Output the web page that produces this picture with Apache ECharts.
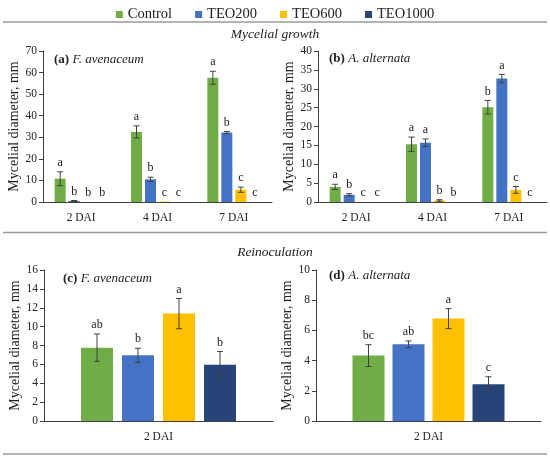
<!DOCTYPE html>
<html>
<head>
<meta charset="utf-8">
<script src="https://cdn.jsdelivr.net/npm/echarts@6/dist/echarts.min.js"></script>
<style>
  html, body { margin: 0; padding: 0; background: #fff; }
  #main { width: 550px; height: 458px; }
</style>
</head>
<body>
<div id="main"></div>
<script>
// treatments, days
var groups = ['Control', 'TEO200', 'TEO600', 'TEO1000'];
var days = ['2 DAI', '4 DAI', '7 DAI'];
var reinocDays = ['2 DAI'];
var colors = ['#70ad47', '#4472c4', '#ffc000', '#264478'];

// (a) F. avenaceum, mycelial growth - rows = treatment, cols = day
var aMean = [[10.8, 32.5, 57.6], [0.5, 10.5, 32.2], [0, 0.2, 5.7], [0, 0, 0]];
var aErr = [[3.2, 2.8, 3.0], [0.2, 1.0, 0.5], [0, 0, 1.2], [0, 0, 0]];
var aLet = [['a', 'a', 'a'], ['b', 'b', 'b'], ['b', 'c', 'c'], ['b', 'c', 'c']];

// (b) A. alternata, mycelial growth
var bMean = [[4.0, 15.3, 25.1], [1.9, 15.7, 32.7], [0, 0.4, 3.2], [0, 0, 0]];
var bErr = [[0.7, 1.9, 1.8], [0.3, 1.0, 1.1], [0, 0.2, 0.9], [0, 0, 0]];
var bLet = [['a', 'a', 'b'], ['b', 'a', 'a'], ['c', 'b', 'c'], ['c', 'b', 'c']];

// (c) F. avenaceum, reinoculation
var cMean = [[7.77], [6.96], [11.38], [5.97]];
var cErr = [[1.45], [0.75], [1.6], [1.4]];
var cLet = [['ab'], ['b'], ['a'], ['b']];

// (d) A. alternata, reinoculation
var dMean = [[4.33], [5.08], [6.78], [2.43]];
var dErr = [[0.72], [0.22], [0.66], [0.5]];
var dLet = [['bc'], ['ab'], ['a'], ['c']];

var myChart = echarts.init(document.getElementById('main'));
var serif = '"Liberation Serif", "DejaVu Serif", serif';
var axisCol = '#404040';

function errRender(means, errs, lets, offset) {
    return function (params, api) {
        var i = params.dataIndex;
        var m = means[i], e = errs[i];
        var base = api.coord([api.value(0), m]);
        var x = base[0] + offset;
        var top = api.coord([api.value(0), m + e])[1];
        var bot = api.coord([api.value(0), Math.max(m - e, 0)])[1];
        var kids = [];
        if (e > 0) {
            var st = {stroke: axisCol, lineWidth: 1};
            kids.push({type: 'line', shape: {x1: x, y1: top, x2: x, y2: bot}, style: st});
            kids.push({type: 'line', shape: {x1: x - 3, y1: top, x2: x + 3, y2: top}, style: st});
            kids.push({type: 'line', shape: {x1: x - 3, y1: bot, x2: x + 3, y2: bot}, style: st});
        }
        kids.push({
            type: 'text',
            style: {
                text: lets[i], x: x, y: top - 3, align: 'center', verticalAlign: 'bottom',
                fontSize: 12, fontFamily: serif, fill: '#222'
            }
        });
        return {type: 'group', children: kids};
    };
}

var grids = [
    {left: 43, top: 51, width: 229, height: 151},
    {left: 318, top: 51, width: 229, height: 151},
    {left: 44, top: 270, width: 229, height: 151},
    {left: 316, top: 270, width: 225, height: 151}
];
var panels = [
    {cats: days, mean: aMean, err: aErr, lets: aLet, max: 70, step: 10, bw: 11, gap: 3},
    {cats: days, mean: bMean, err: bErr, lets: bLet, max: 40, step: 5, bw: 11, gap: 3},
    {cats: reinocDays, mean: cMean, err: cErr, lets: cLet, max: 16, step: 2, bw: 32, gap: 9},
    {cats: reinocDays, mean: dMean, err: dErr, lets: dLet, max: 10, step: 2, bw: 32, gap: 8}
];

var xAxes = [], yAxes = [], series = [];
panels.forEach(function (p, gi) {
    xAxes.push({
        type: 'category', gridIndex: gi, data: p.cats,
        axisLine: {lineStyle: {color: axisCol, width: 1}},
        axisTick: {length: 5, lineStyle: {color: axisCol}},
        axisLabel: {color: '#222', fontFamily: serif, fontSize: 11.5, margin: 10}
    });
    yAxes.push({
        type: 'value', gridIndex: gi, min: 0, max: p.max, interval: p.step,
        name: 'Mycelial diameter, mm', nameLocation: 'middle', nameGap: 21,
        nameTextStyle: {fontFamily: serif, fontSize: 14, color: '#222'},
        axisLine: {show: true, lineStyle: {color: axisCol, width: 1}},
        axisTick: {show: true, length: 4, lineStyle: {color: axisCol}},
        splitLine: {show: false},
        axisLabel: {color: '#222', fontFamily: serif, fontSize: 11.5, margin: 6}
    });
    groups.forEach(function (g, k) {
        series.push({
            name: g, type: 'bar', xAxisIndex: gi, yAxisIndex: gi,
            data: p.mean[k], barWidth: p.bw, barGap: (p.gap / p.bw * 100) + '%',
            itemStyle: {color: colors[k]}, animation: false
        });
    });
    groups.forEach(function (g, k) {
        var off = (k - 1.5) * (p.bw + p.gap);
        series.push({
            name: g + ' err', type: 'custom', xAxisIndex: gi, yAxisIndex: gi,
            data: p.mean[k].map(function (v, i) { return [i, v]; }),
            renderItem: errRender(p.mean[k], p.err[k], p.lets[k], off),
            z: 5, animation: false, silent: true
        });
    });
});

function rule(y) {
    return {type: 'line', shape: {x1: 3, y1: y, x2: 547, y2: y}, style: {stroke: '#9a9a9a', lineWidth: 1.5}};
}
function sectionTitle(t, y) {
    return {type: 'text', left: 'center', top: y, style: {text: t, fontFamily: serif, fontSize: 13.5, fontStyle: 'italic', fill: '#222'}};
}
function panelTitle(tag, sp, x, y) {
    return {
        type: 'text', left: x, top: y,
        style: {
            text: '{b|' + tag + '} {i|' + sp + '}',
            rich: {
                b: {fontWeight: 'bold', fontFamily: serif, fontSize: 13, fill: '#222'},
                i: {fontStyle: 'italic', fontFamily: serif, fontSize: 13, fill: '#222'}
            }
        }
    };
}

var option = {
    backgroundColor: '#fff',
    animation: false,
    legend: {
        data: groups, top: 2, left: 'center', itemWidth: 7, itemHeight: 7, itemGap: 23,
        icon: 'rect', textStyle: {fontFamily: serif, fontSize: 14.5, color: '#222'}
    },
    grid: grids,
    xAxis: xAxes,
    yAxis: yAxes,
    series: series,
    graphic: [
        rule(22), rule(232.5), rule(454),
        sectionTitle('Mycelial growth', 27),
        sectionTitle('Reinoculation', 245),
        panelTitle('(a)', 'F. avenaceum', 54, 53),
        panelTitle('(b)', 'A. alternata', 329, 52),
        panelTitle('(c)', 'F. avenaceum', 63, 272),
        panelTitle('(d)', 'A. alternata', 329, 269)
    ]
};
myChart.setOption(option);
</script>
</body>
</html>
